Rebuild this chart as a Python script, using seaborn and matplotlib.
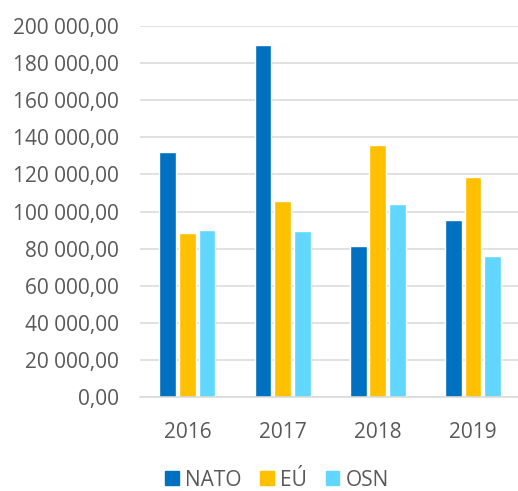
import matplotlib
matplotlib.use('Agg')
import matplotlib.pyplot as plt
import seaborn as sns
import pandas as pd
from matplotlib.ticker import FuncFormatter, MultipleLocator

# =========== DATA =============
years = ['2016', '2017', '2018', '2019']
nato = [132000, 190000, 81500, 95200]
eu = [88400, 105500, 135700, 118800]
osn = [90300, 89500, 104300, 76000]

series = ['NATO', 'EÚ', 'OSN']
colors = ['#0070C0', '#FFC000', '#61D6FF']

df = pd.DataFrame({
    'rok': years * 3,
    'hodnota': nato + eu + osn,
    'org': [s for s in series for _ in years],
})

# =========== PLOT =============
sns.set_style('white')
plt.rcParams['font.family'] = ['Open Sans', 'DejaVu Sans']

fig = plt.figure(figsize=(5.18, 4.91), dpi=100)
ax = fig.add_axes([0.270, 0.1914, 0.735, 0.7556])

sns.barplot(data=df, x='rok', y='hodnota', hue='org', palette=colors,
            saturation=1, width=0.62, gap=0.15, ax=ax, legend=True)

ax.set_ylim(0, 200000)
ax.yaxis.set_major_locator(MultipleLocator(20000))


def fmt(v, pos):
    s = f'{v:,.2f}'.replace(',', ' ').replace('.', ',')
    return s


ax.yaxis.set_major_formatter(FuncFormatter(fmt))
ax.grid(axis='y', color='#D9D9D9', linewidth=1.1)
ax.set_axisbelow(True)
for side in ['left', 'right', 'top']:
    ax.spines[side].set_visible(False)
ax.spines['bottom'].set_color('#D9D9D9')
ax.spines['bottom'].set_linewidth(1.1)
ax.set_xlabel('')
ax.set_ylabel('')
ax.tick_params(axis='both', length=0, labelsize=15, labelcolor='#595959')
ax.tick_params(axis='y', pad=15)
ax.tick_params(axis='x', pad=18)

ax.legend_.remove()
handles = [plt.Rectangle((0, 0), 1, 1, color=c) for c in colors]
fig.legend(handles, series, loc='center', bbox_to_anchor=(0.535, 0.022), ncol=3,
           frameon=False, fontsize=15, labelcolor='#595959', handlelength=0.65,
           handleheight=0.65, handletextpad=0.3, columnspacing=0.9)

plt.savefig('out.png', dpi=100)
